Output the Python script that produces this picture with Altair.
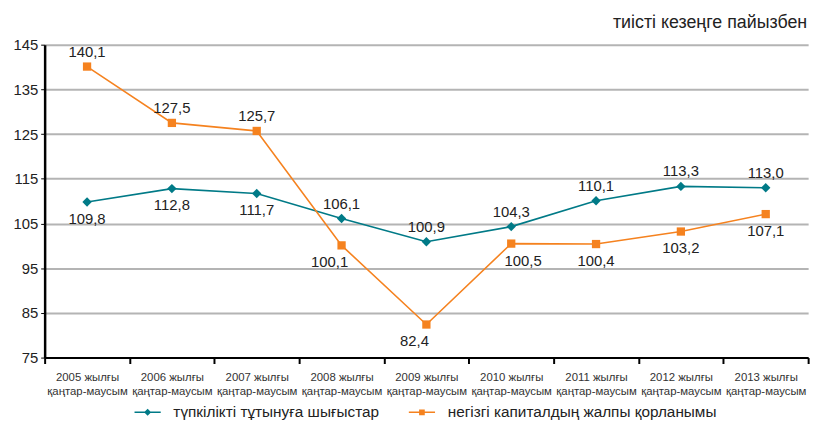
import altair as alt
import pandas as pd

categories = [
    "2005 жылғы қаңтар-маусым", "2006 жылғы қаңтар-маусым", "2007 жылғы қаңтар-маусым",
    "2008 жылғы қаңтар-маусым", "2009 жылғы қаңтар-маусым", "2010 жылғы қаңтар-маусым",
    "2011 жылғы қаңтар-маусым", "2012 жылғы қаңтар-маусым", "2013 жылғы қаңтар-маусым",
]
series_names = ["түпкілікті тұтынуға шығыстар", "негізгі капиталдың жалпы қорланымы"]
consumption = [109.8, 112.8, 111.7, 106.1, 100.9, 104.3, 110.1, 113.3, 113.0]
investment = [140.1, 127.5, 125.7, 100.1, 82.4, 100.5, 100.4, 103.2, 107.1]
consumption_label_pos = ["below", "below", "below", "above", "above", "above", "above", "above", "above"]
investment_label_pos = ["above", "above", "above", "belowleft", "belowleft", "belowright", "below", "below", "below"]
y_ticks = [75, 85, 95, 105, 115, 125, 135, 145]

colors = ["#007A87", "#F5821F"]
FONT = "Liberation Sans"

rows = []
for c, v, p in zip(categories, consumption, consumption_label_pos):
    rows.append({"cat": c, "value": v, "series": series_names[0], "pos": p,
                 "label": f"{v:.1f}".replace(".", ",")})
for c, v, p in zip(categories, investment, investment_label_pos):
    rows.append({"cat": c, "value": v, "series": series_names[1], "pos": p,
                 "label": f"{v:.1f}".replace(".", ",")})
df = pd.DataFrame(rows)

x_enc = alt.X("cat:N", sort=categories, title=None,
              scale=alt.Scale(paddingInner=0, paddingOuter=0),
              axis=alt.Axis(labelAngle=0, labelExpr="[slice(datum.label, 0, 10), slice(datum.label, 11)]",
                            labelFont=FONT, labelFontSize=11.5, labelColor="#333333", labelLineHeight=14,
                            labelPadding=8, tickBand="extent", tickSize=6, tickColor="#000000",
                            tickWidth=2, domainColor="#000000", domainWidth=2, grid=False))
y_enc = alt.Y("value:Q", title=None,
              scale=alt.Scale(domain=[75, 145], nice=False, zero=False),
              axis=alt.Axis(values=y_ticks, labelFont=FONT, labelFontSize=15, labelColor="#222222",
                            labelPadding=3, tickSize=4, tickColor="#000000", tickWidth=1,
                            domainColor="#000000", domainWidth=2.5,
                            grid=True, gridColor="#B4B4B4", gridWidth=2))

color_scale = alt.Scale(domain=series_names, range=colors)

base = alt.Chart(df)

lines = base.mark_line(strokeWidth=1.6).encode(
    x=x_enc, y=y_enc,
    color=alt.Color("series:N", scale=color_scale, legend=None),
)

points = base.mark_point(filled=True, opacity=1).encode(
    x=x_enc, y=y_enc,
    color=alt.Color("series:N", scale=color_scale, legend=None),
    shape=alt.Shape("series:N", scale=alt.Scale(domain=series_names, range=["diamond", "square"]), legend=None),
    size=alt.Size("series:N", scale=alt.Scale(domain=series_names, range=[90, 70]), legend=None),
)

legend_paths = [
    "M-1,0H1M0,-0.19L0.19,0L0,0.19L-0.19,0Z",
    "M-1,0H1M-0.16,-0.16H0.16V0.16H-0.16Z",
]
legend_layer = base.mark_point(strokeWidth=1.6, opacity=1).encode(
    x=x_enc, y=y_enc,
    stroke=alt.Stroke("series:N", scale=alt.Scale(domain=series_names, range=colors),
                      legend=alt.Legend(title=None)),
    fill=alt.Fill("series:N", scale=alt.Scale(domain=series_names, range=colors),
                  legend=alt.Legend(title=None)),
    shape=alt.Shape("series:N", scale=alt.Scale(domain=series_names, range=legend_paths),
                    legend=alt.Legend(title=None, orient="none", direction="horizontal",
                                      legendX=90, legendY=357, symbolSize=700,
                                      labelFont=FONT, labelFontSize=15.5, labelColor="#222222",
                                      labelLimit=0, labelOffset=12, columnPadding=25, padding=0)),
).transform_filter("false")

def text_layer(pos, dx, dy, align="center"):
    return base.mark_text(font=FONT, fontSize=15, color="#222222", dx=dx, dy=dy,
                          align=align, baseline="middle").encode(
        x=x_enc, y=y_enc, text="label:N"
    ).transform_filter(alt.datum.pos == pos)

labels = [
    text_layer("above", 0, -15),
    text_layer("below", 0, 17),
    text_layer("belowleft", -12, 17),
    text_layer("belowright", 12, 18),
]

chart = alt.layer(lines, points, legend_layer, *labels).resolve_scale(
    color="independent", shape="independent", size="independent",
    fill="independent", stroke="independent",
).properties(
    width=771, height=316,
    padding={"left": 37, "top": 35, "right": 14, "bottom": 62},
    autosize=alt.AutoSizeParams(type="none"),
    title=alt.TitleParams("тиісті кезеңге пайызбен", anchor="end", font=FONT, fontSize=18,
                          fontWeight="normal", color="#222222", dx=-2, offset=6),
).configure_view(stroke=None).configure_axis(labelFont=FONT)

chart.save("out.html", embed_options={"renderer": "svg", "actions": False})
